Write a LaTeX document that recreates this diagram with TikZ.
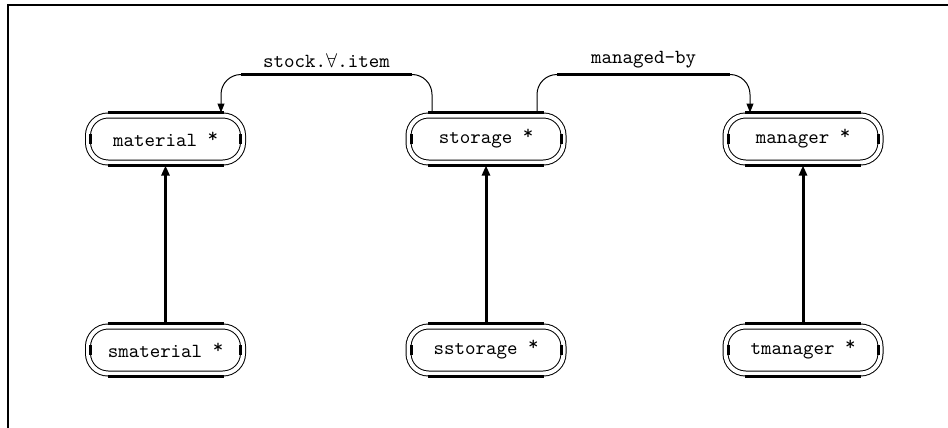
\documentclass[tikz,border=0pt]{standalone}
\usepackage{amsmath}
\usetikzlibrary{arrows.meta}
\newcommand{\clsstar}{\raisebox{2pt}{*}}
\begin{document}
\begin{tikzpicture}[x=0.5pt,y=-0.5pt]
	\tikzstyle{every node}+=[inner sep=0pt]
	\tikzstyle{cls}=[draw, line width=0.5pt, double, double distance=2pt, rounded corners=10pt, minimum width=77.5pt, minimum height=23.5pt, font=\ttfamily]
	\tikzstyle{isa}=[line width=1.5pt, -{Triangle[length=5pt,width=4pt]}]
	\tikzstyle{rel}=[line width=0.5pt, rounded corners=10pt, -{Triangle[length=4.5pt,width=3.5pt]}]
	\tikzstyle{bar}=[line width=1.5pt]
	\useasboundingbox (0,0) rectangle (948,428);
	\draw [line width=1pt] (8,428) -- (8,5) -- (948,5);
	\node [cls] (material) at (165.5,139) {material \clsstar};
	\node [cls] (storage) at (486,139) {storage \clsstar};
	\node [cls] (manager) at (803,139) {manager \clsstar};
	\node [cls] (smaterial) at (165.5,350) {smaterial \clsstar};
	\node [cls] (sstorage) at (486,350) {sstorage \clsstar};
	\node [cls] (tmanager) at (803,350) {tmanager \clsstar};
	\foreach \n in {material,storage,manager,smaterial,sstorage,tmanager} {
		\draw [bar] ([xshift=10pt,yshift=1.25pt]\n.north west) -- ([xshift=-10pt,yshift=1.25pt]\n.north east);
		\draw [bar] ([xshift=10pt,yshift=-1.25pt]\n.south west) -- ([xshift=-10pt,yshift=-1.25pt]\n.south east);
		\draw [bar] ([xshift=1.5pt,yshift=-2.5pt]\n.west) -- ([xshift=1.5pt,yshift=2.5pt]\n.west);
		\draw [bar] ([xshift=-1.5pt,yshift=-2.5pt]\n.east) -- ([xshift=-1.5pt,yshift=2.5pt]\n.east);
	}
	\draw [isa] ([yshift=1.25pt]smaterial.north) -- ([yshift=-1.25pt]material.south);
	\draw [isa] ([yshift=1.25pt]sstorage.north) -- ([yshift=-1.25pt]storage.south);
	\draw [isa] ([yshift=1.25pt]tmanager.north) -- ([yshift=-1.25pt]manager.south);
	\coordinate (stockfrom) at ([xshift=-27pt,yshift=1.25pt]storage.north);
	\coordinate (stockto) at ([xshift=27.75pt,yshift=1.25pt]material.north);
	\draw [rel] (stockfrom) -- ++(0,-38) coordinate (stocka) -| node [pos=0.25,above=3pt] {\ttfamily stock.$\forall$.item} (stockto);
	\draw [bar, shorten <=10pt, shorten >=10pt] (stocka) -- (stocka -| stockto);
	\coordinate (mgrfrom) at ([xshift=25.5pt,yshift=1.25pt]storage.north);
	\coordinate (mgrto) at ([xshift=-26.5pt,yshift=1.25pt]manager.north);
	\draw [rel] (mgrfrom) -- ++(0,-38) coordinate (mgra) -| node [pos=0.25,above=3pt] {\ttfamily managed-by} (mgrto);
	\draw [bar, shorten <=10pt, shorten >=10pt] (mgra) -- (mgra -| mgrto);
\end{tikzpicture}
\end{document}
